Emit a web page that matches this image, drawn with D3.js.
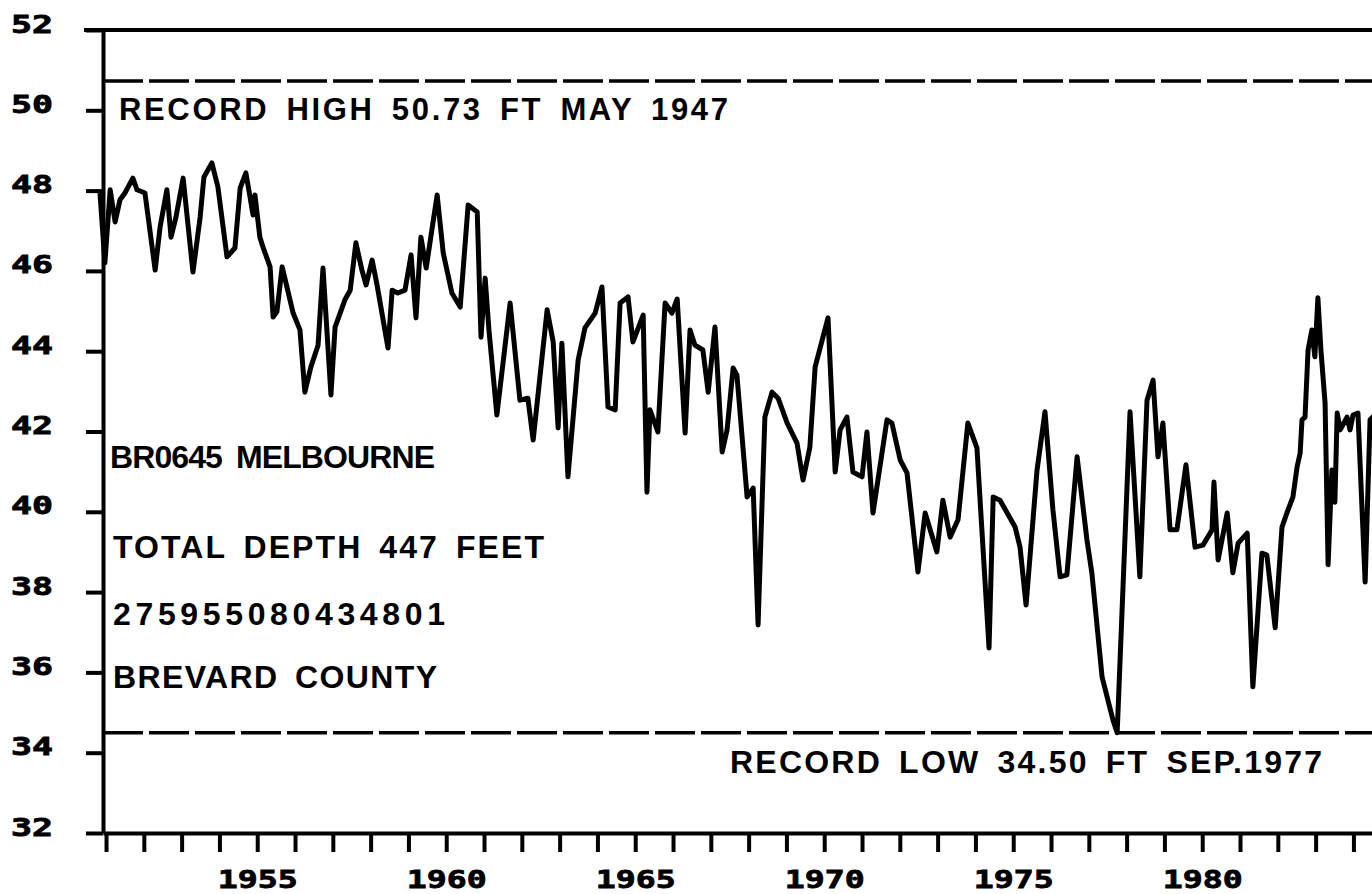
<!DOCTYPE html>
<html>
<head>
<meta charset="utf-8">
<script src="https://cdn.jsdelivr.net/npm/d3@7"></script>
<style>
    html, body { margin: 0; padding: 0; background: #fff; overflow: hidden; }
    svg { display: block; }
    .tick text {
        font-family: "DejaVu Sans Mono", monospace;
        font-weight: bold;
        stroke: #000;
        stroke-width: 0.8px;
    }
    .note { font-family: "Liberation Sans", Arial, sans-serif; font-weight: bold; word-spacing: 6px; }
</style>
</head>
<body>
<svg id="chart"></svg>
<script>
// water level readings (decimal year, feet)
const years = [
    1950.84, 1950.97, 1951.11, 1951.24, 1951.37, 1951.50, 1951.71, 1951.82, 1952.03, 1952.30,
    1952.43, 1952.61, 1952.72, 1952.85, 1953.04, 1953.30, 1953.49, 1953.59, 1953.80, 1953.96,
    1954.20, 1954.41, 1954.55, 1954.70, 1954.81, 1954.89, 1954.94, 1955.07, 1955.15, 1955.34,
    1955.42, 1955.52, 1955.66, 1955.95, 1956.13, 1956.26, 1956.42, 1956.61, 1956.74, 1956.95,
    1957.06, 1957.32, 1957.46, 1957.61, 1957.77, 1957.88, 1958.04, 1958.17, 1958.46, 1958.57,
    1958.72, 1958.91, 1959.07, 1959.20, 1959.33, 1959.47, 1959.62, 1959.76, 1959.92, 1960.15,
    1960.37, 1960.58, 1960.82, 1960.92, 1961.03, 1961.13, 1961.34, 1961.69, 1961.95, 1962.16,
    1962.30, 1962.67, 1962.83, 1962.96, 1963.06, 1963.22, 1963.49, 1963.67, 1963.94, 1964.12,
    1964.28, 1964.47, 1964.60, 1964.81, 1964.94, 1965.21, 1965.31, 1965.39, 1965.60, 1965.79,
    1965.97, 1966.11, 1966.32, 1966.45, 1966.58, 1966.79, 1966.93, 1967.11, 1967.30, 1967.43,
    1967.59, 1967.69, 1967.96, 1968.12, 1968.25, 1968.43, 1968.62, 1968.78, 1969.02, 1969.28,
    1969.44, 1969.62, 1969.76, 1970.10, 1970.29, 1970.42, 1970.60, 1970.76, 1971.00, 1971.13,
    1971.29, 1971.66, 1971.79, 1972.01, 1972.19, 1972.48, 1972.67, 1972.98, 1973.14, 1973.33,
    1973.54, 1973.80, 1974.04, 1974.36, 1974.47, 1974.65, 1975.05, 1975.18, 1975.34, 1975.63,
    1975.84, 1976.05, 1976.24, 1976.42, 1976.69, 1976.95, 1977.08, 1977.35, 1977.64, 1977.75,
    1978.09, 1978.35, 1978.54, 1978.70, 1978.83, 1978.96, 1979.15, 1979.33, 1979.57, 1979.81,
    1980.02, 1980.26, 1980.31, 1980.42, 1980.66, 1980.81, 1980.95, 1981.19, 1981.34, 1981.58,
    1981.71, 1981.93, 1982.11, 1982.24, 1982.40, 1982.51, 1982.59, 1982.64, 1982.72, 1982.80,
    1982.90, 1982.98, 1983.06, 1983.14, 1983.25, 1983.33, 1983.43, 1983.51, 1983.57, 1983.65,
    1983.83, 1983.91, 1983.99, 1984.12, 1984.31, 1984.44, 1984.65
];

const levels = [
    47.94, 46.20, 48.02, 47.22, 47.77, 47.94, 48.31, 48.02, 47.94, 46.02,
    47.09, 48.02, 46.84, 47.34, 48.31, 45.97, 47.34, 48.34, 48.69, 48.09,
    46.35, 46.57, 48.07, 48.44, 47.84, 47.39, 47.89, 46.84, 46.60, 46.10,
    44.85, 44.98, 46.10, 44.95, 44.53, 42.98, 43.61, 44.15, 46.07, 42.91,
    44.60, 45.28, 45.52, 46.70, 46.02, 45.65, 46.27, 45.65, 44.08, 45.52,
    45.45, 45.52, 46.40, 44.83, 46.84, 46.07, 47.02, 47.89, 46.45, 45.45,
    45.10, 47.64, 47.47, 44.35, 45.82, 44.53, 42.41, 45.20, 42.78, 42.83,
    41.79, 45.03, 44.23, 42.09, 44.20, 40.87, 43.78, 44.58, 44.95, 45.60,
    42.61, 42.54, 45.20, 45.35, 44.23, 44.90, 40.49, 42.54, 41.99, 45.20,
    44.95, 45.30, 41.96, 44.53, 44.15, 44.03, 42.98, 44.60, 41.49, 42.04,
    43.58, 43.41, 40.37, 40.59, 37.18, 42.36, 42.98, 42.83, 42.21, 41.71,
    40.79, 41.61, 43.61, 44.83, 40.99, 42.04, 42.36, 40.99, 40.87, 41.99,
    39.97, 42.29, 42.21, 41.29, 40.97, 38.50, 39.97, 39.00, 40.29, 39.37,
    39.80, 42.21, 41.59, 36.61, 40.37, 40.29, 39.62, 39.12, 37.68, 41.04,
    42.49, 40.05, 38.38, 38.43, 41.37, 39.30, 38.48, 35.89, 34.81, 34.50,
    42.49, 38.38, 42.78, 43.28, 41.37, 42.21, 39.55, 39.55, 41.17, 39.12,
    39.17, 39.55, 40.74, 38.80, 39.97, 38.48, 39.22, 39.47, 35.64, 38.97,
    38.92, 37.11, 39.62, 39.97, 40.37, 41.12, 41.46, 42.29, 42.36, 44.03,
    44.53, 43.86, 45.33, 44.03, 42.71, 38.68, 41.04, 40.24, 42.46, 42.04,
    42.36, 42.04, 42.41, 42.46, 38.25, 42.29, 42.49
];

const yTicks = [32, 34, 36, 38, 40, 42, 44, 46, 48, 50, 52];
const xTicks = d3.range(1951, 1986);
const labelYears = [1955, 1960, 1965, 1970, 1975, 1980];

const recordHigh = 50.73;
const recordLow = 34.50;
const recordHighText = "RECORD HIGH 50.73 FT MAY 1947";
const recordLowText = "RECORD LOW 34.50 FT SEP.1977";
const wellInfo = ["BR0645 MELBOURNE", "TOTAL DEPTH 447 FEET", "275955080434801", "BREVARD COUNTY"];

const width = 1372;
const height = 894;

const svg = d3.select("#chart").attr("width", width).attr("height", height);

// scales: one tick per year, page is cut on the right like the scan
const x = d3.scaleLinear().domain([1950.92, 1985.5]).range([103, 103 + 34.58 * 37.8]);
const y = d3.scaleLinear().domain([32, 52]).range([833, 30]);

// top frame line
svg.append("line")
    .attr("x1", 84).attr("x2", width)
    .attr("y1", y(52)).attr("y2", y(52))
    .attr("stroke", "#000").attr("stroke-width", 4);

// record lines
[recordHigh, recordLow].forEach(v => {
    svg.append("line")
        .attr("x1", x.range()[0]).attr("x2", width)
        .attr("y1", y(v)).attr("y2", y(v))
        .attr("stroke", "#000")
        .attr("stroke-width", 3.5)
        .attr("stroke-dasharray", "40 6");
});

// Y axis
const yAxis = svg.append("g")
    .attr("transform", `translate(${x.range()[0]},0)`)
    .call(d3.axisLeft(y).tickValues(yTicks).tickSize(17).tickSizeOuter(0).tickFormat(d3.format("d")));
yAxis.select(".domain").attr("stroke-width", 4);
yAxis.selectAll(".tick line").attr("stroke-width", 4);
yAxis.selectAll(".tick text")
    .attr("x", -50)
    .attr("y", 2)
    .attr("dy", 0)
    .attr("fill", "#000")
    .attr("textLength", 42)
    .attr("lengthAdjust", "spacingAndGlyphs")
    .style("font-size", "24px");

// X axis
const xAxis = svg.append("g")
    .attr("transform", `translate(0,${y(32)})`)
    .call(d3.axisBottom(x).tickValues(xTicks).tickSize(19).tickSizeOuter(0)
        .tickFormat(d => labelYears.includes(d) ? d : ""));
xAxis.select(".domain").attr("stroke-width", 4);
xAxis.selectAll(".tick line").attr("stroke-width", 4);
xAxis.selectAll(".tick text")
    .filter(d => labelYears.includes(d))
    .attr("y", 55)
    .attr("dy", 0)
    .attr("fill", "#000")
    .attr("textLength", 80)
    .attr("lengthAdjust", "spacingAndGlyphs")
    .style("font-size", "25px");

// water level line
const line = d3.line()
    .x(d => x(d[0]))
    .y(d => y(d[1]));

svg.append("path")
    .datum(d3.zip(years, levels))
    .attr("d", line)
    .attr("fill", "none")
    .attr("stroke", "#000")
    .attr("stroke-width", 5)
    .attr("stroke-linejoin", "round");

// annotations
svg.append("text")
    .attr("class", "note")
    .attr("x", 119)
    .attr("y", y(recordHigh) + 39)
    .attr("textLength", 609)
    .attr("lengthAdjust", "spacing")
    .style("font-size", "31px")
    .text(recordHighText);

svg.append("text")
    .attr("class", "note")
    .attr("x", 730)
    .attr("y", y(recordLow) + 40)
    .attr("textLength", 592)
    .attr("lengthAdjust", "spacing")
    .style("font-size", "32px")
    .text(recordLowText);

const infoY = [468, 558, 625, 688];
const infoLen = [325, 431, 332, 324];
svg.selectAll(".info")
    .data(wellInfo)
    .enter()
    .append("text")
    .attr("class", "note info")
    .attr("x", (d, i) => i === 0 ? 110 : 113)
    .attr("y", (d, i) => infoY[i])
    .attr("textLength", (d, i) => infoLen[i])
    .attr("lengthAdjust", "spacing")
    .style("font-size", "32px")
    .text(d => d);
</script>
</body>
</html>
